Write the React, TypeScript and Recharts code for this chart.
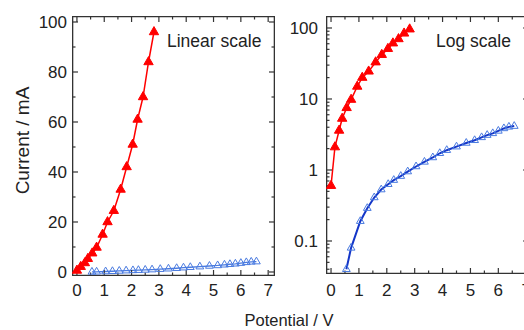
import React from 'react';
import { ComposedChart, Line, XAxis, YAxis, Symbols } from 'recharts';

// ---- data ----
const redX = [0, 0.14, 0.29, 0.4, 0.56, 0.72, 0.94, 1.12, 1.35, 1.6, 1.82, 2.04, 2.22, 2.42, 2.62, 2.82];
const redY = [0.6, 2.1, 3.6, 5.3, 7.5, 9.8, 15, 20, 24.5, 33, 42, 51, 61, 70, 84, 96];
const blueX = [0.55, 0.72, 1.05, 1.3, 1.55, 1.8, 2.05, 2.25, 2.5, 2.75, 3.05, 3.35, 3.65, 3.9, 4.15, 4.5, 4.85, 5.15, 5.4, 5.6, 5.8, 6.0, 6.2, 6.38, 6.57];
const blueY = [0.04, 0.08, 0.19, 0.29, 0.41, 0.53, 0.63, 0.72, 0.82, 0.95, 1.12, 1.3, 1.5, 1.72, 1.9, 2.13, 2.4, 2.62, 2.88, 3.1, 3.28, 3.55, 3.85, 4.05, 4.15];

// ---- ticks / domains ----
const xMajor = [0, 1, 2, 3, 4, 5, 6, 7];
const xMinor = [0.5, 1.5, 2.5, 3.5, 4.5, 5.5, 6.5];
const linMajor = [0, 20, 40, 60, 80, 100];
const linMinor = [10, 30, 50, 70, 90];
const logMajor = [0.1, 1, 10, 100];
const logMinor = [0.04, 0.05, 0.06, 0.07, 0.08, 0.09, 0.2, 0.3, 0.4, 0.5, 0.6, 0.7, 0.8, 0.9, 2, 3, 4, 5, 6, 7, 8, 9, 20, 30, 40, 50, 60, 70, 80, 90];
const linXDomain = [-0.18, 7.25];
const linYDomain = [-1.6, 102.4];
const logXDomain = [-0.18, 7.1];
const logYDomain = [0.0343, 147.5];

const redData = redX.map((x, i) => ({ x, y: redY[i] }));
const blueData = blueX.map((x, i) => ({ x, y: blueY[i] }));

const FONT = '"Liberation Sans", Arial, Helvetica, sans-serif';
const AX = '#333';
const RED = '#ff0000';
const BLUE_LINE = '#1436c8';
const BLUE_MK = '#4a7be0';

const redDot = (p: any) => (
  <Symbols key={`r${p.index}`} cx={p.cx} cy={p.cy} type="triangle" size={38} fill={RED} stroke={RED} />
);
const blueDot = (p: any) => (
  <Symbols key={`b${p.index}`} cx={p.cx} cy={p.cy} type="triangle" size={26} fill="none" stroke={BLUE_MK} />
);

// tick mark drawn from the library-computed point, pointing into the plot
const tickMark = (id: string, dx: number, dy: number) => (p: any) => (
  <line key={`${id}${p.index}`} x1={p.cx} y1={p.cy} x2={p.cx + dx} y2={p.cy + dy} stroke={AX} strokeWidth={1.2} />
);

function Panel(props: { log: boolean; width: number; margin: any; xDomain: number[]; yDomain: number[]; xTickMargin: number; yTickMargin: number }) {
  const { log, width, margin, xDomain, yDomain, xTickMargin, yTickMargin } = props;
  const yMajor = log ? logMajor : linMajor;
  const yMinor = log ? logMinor : linMinor;
  const [x0, x1] = xDomain;
  const [y0, y1] = yDomain;
  const frame = [
    { x: x0, y: y0 }, { x: x1, y: y0 }, { x: x1, y: y1 }, { x: x0, y: y1 }, { x: x0, y: y0 },
  ];
  const marks: { id: string; data: { x: number; y: number }[]; dx: number; dy: number }[] = [
    { id: 'bM', data: xMajor.map((t) => ({ x: t, y: y0 })), dx: 0, dy: -6 },
    { id: 'bm', data: xMinor.map((t) => ({ x: t, y: y0 })), dx: 0, dy: -3.5 },
    { id: 'tM', data: xMajor.map((t) => ({ x: t, y: y1 })), dx: 0, dy: 6 },
    { id: 'tm', data: xMinor.map((t) => ({ x: t, y: y1 })), dx: 0, dy: 3.5 },
    { id: 'lM', data: yMajor.map((t) => ({ x: x0, y: t })), dx: 6, dy: 0 },
    { id: 'lm', data: yMinor.map((t) => ({ x: x0, y: t })), dx: 3.5, dy: 0 },
    { id: 'rM', data: yMajor.map((t) => ({ x: x1, y: t })), dx: -6, dy: 0 },
  ];
  if (!log) marks.push({ id: 'rm', data: yMinor.map((t) => ({ x: x1, y: t })), dx: -3.5, dy: 0 });

  return (
    <ComposedChart width={width} height={330} margin={margin}>
      <XAxis
        xAxisId="b" type="number" dataKey="x" domain={xDomain} allowDataOverflow height={0.01}
        ticks={xMajor} interval={0} tickSize={-6} tickMargin={xTickMargin}
        tick={{ fontSize: 17, fill: '#222' }} tickLine={false} axisLine={false}
      />
      <YAxis
        yAxisId="l" type="number" domain={yDomain} allowDataOverflow scale={log ? 'log' : 'linear'} width={0.01}
        ticks={yMajor} interval={0} tickSize={-6} tickMargin={yTickMargin}
        tick={{ fontSize: 17, fill: '#222' }} tickFormatter={(v: number) => String(v)} tickLine={false} axisLine={false}
      />
      <Line xAxisId="b" yAxisId="l" data={frame} dataKey="y" stroke={AX} strokeWidth={2.6} dot={false} activeDot={false} legendType="none" isAnimationActive={false} />
      {marks.map((m) => (
        <Line key={m.id} xAxisId="b" yAxisId="l" data={m.data} dataKey="y" stroke="none" dot={tickMark(m.id, m.dx, m.dy)} activeDot={false} legendType="none" isAnimationActive={false} />
      ))}
      <Line xAxisId="b" yAxisId="l" data={blueData} dataKey="y" stroke={log ? BLUE_LINE : BLUE_MK} strokeWidth={log ? 2 : 1.3} dot={blueDot} activeDot={false} isAnimationActive={false} />
      <Line xAxisId="b" yAxisId="l" data={redData} dataKey="y" stroke={RED} strokeWidth={1.5} dot={redDot} activeDot={false} isAnimationActive={false} />
    </ComposedChart>
  );
}

const txt = (size: number): React.CSSProperties => ({
  position: 'absolute', fontFamily: FONT, fontSize: size, lineHeight: `${size}px`, color: '#222', whiteSpace: 'nowrap',
});

export default function App() {
  return (
    <div style={{ position: 'absolute', left: 0, top: 0, width: 524, height: 330, overflow: 'hidden', fontFamily: FONT }}>
      <div style={{ display: 'flex', flexDirection: 'row', width: 524 }}>
        <Panel
          log={false}
          width={285}
          margin={{ top: 16, right: 10, bottom: 54, left: 72 }}
          xDomain={linXDomain}
          yDomain={linYDomain}
          xTickMargin={14}
          yTickMargin={11}
        />
        <Panel
          log={true}
          width={239}
          margin={{ top: 16, right: -5, bottom: 56, left: 41 }}
          xDomain={logXDomain}
          yDomain={logYDomain}
          xTickMargin={16}
          yTickMargin={14}
        />
      </div>
      <div style={{ ...txt(19), left: -77.6, top: 130.5, width: 200, height: 19, textAlign: 'center', transform: 'rotate(-90deg)' }}>Current / mA</div>
      <div style={{ ...txt(16.5), left: 189, top: 312, width: 200, textAlign: 'center' }}>Potential / V</div>
      <div style={{ ...txt(17.5), left: 167, top: 32.7 }}>Linear scale</div>
      <div style={{ ...txt(17.5), left: 436, top: 32.7 }}>Log scale</div>
    </div>
  );
}
